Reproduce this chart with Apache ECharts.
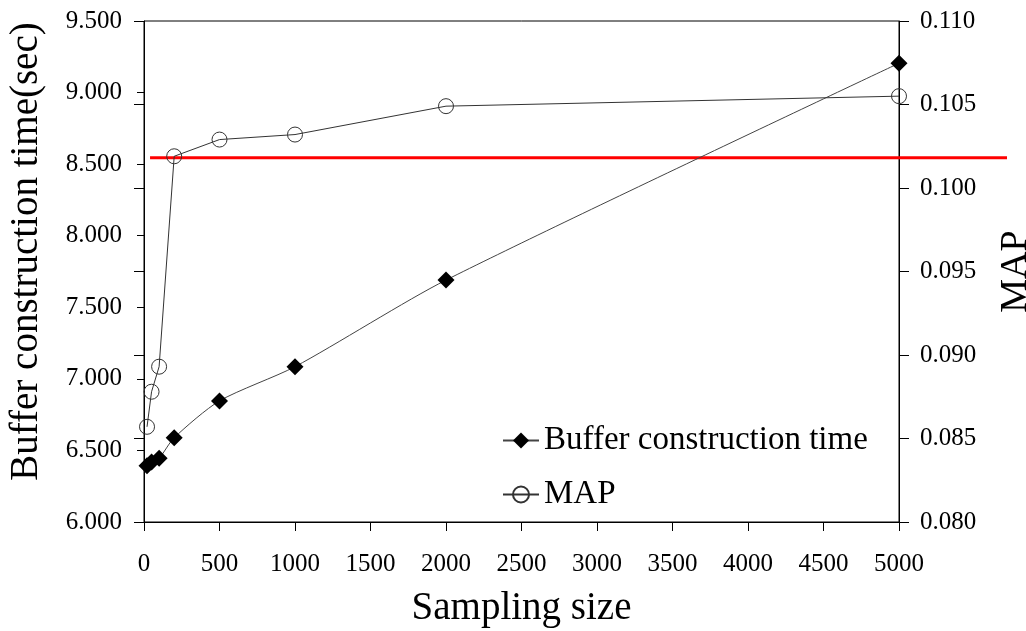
<!DOCTYPE html>
<html>
<head>
<meta charset="utf-8">
<script src="https://cdn.jsdelivr.net/npm/echarts@6/dist/echarts.min.js"></script>
<style>html,body{margin:0;padding:0;background:#fff;}#c{width:1026px;height:631px;}</style>
</head>
<body>
<div id="c"></div>
<script>
var samplingSizes = [20, 50, 100, 200, 500, 1000, 2000, 5000];
var bufferTime = [6.393, 6.42, 6.445, 6.589, 6.846, 7.085, 7.69, 9.205];
var mapValues = [0.0857, 0.0878, 0.0893, 0.1019, 0.1029, 0.1032, 0.1049, 0.1055];
var redLineValue = 8.544;
var redLineFrom = 40;
var redLineTo = 5715;
var leftTicks = [6.0, 9.5, 0.5];
var rightTicks = [0.080, 0.110, 0.005];
var xTicks = [0, 5000, 500];

var font = "'Liberation Serif', 'Times New Roman', serif";
function pairs(xs, ys) { return xs.map(function (x, i) { return [x, ys[i]]; }); }

var chart = echarts.init(document.getElementById('c'), null, {renderer: 'canvas'});
chart.setOption({
  backgroundColor: '#fff',
  animation: false,
  grid: [
    {left: 144, right: 127, top: 21, bottom: 109, show: true, borderColor: '#000', borderWidth: 1, backgroundColor: 'transparent', containLabel: false, outerBoundsMode: 'none'},
    {left: 144, right: 19, top: 21, bottom: 109, show: false, containLabel: false, outerBoundsMode: 'none'},
    {left: 144, right: 127, top: 21, bottom: 109, show: false, containLabel: false, outerBoundsMode: 'none'}
  ],
  xAxis: [
    {
      gridIndex: 0, type: 'value', min: xTicks[0], max: xTicks[1], interval: xTicks[2],
      name: 'Sampling size', nameLocation: 'middle', nameGap: 67,
      nameTextStyle: {fontFamily: font, fontSize: 39, color: '#000'},
      axisLine: {show: true, lineStyle: {color: '#000', width: 1}},
      axisTick: {show: true, inside: false, length: 9, lineStyle: {color: '#000'}},
      axisLabel: {fontFamily: font, fontSize: 25, color: '#000', margin: 30, formatter: function (v) { return String(v); }},
      splitLine: {show: false}
    },
    {
      gridIndex: 1, type: 'value', min: 0, max: redLineTo, show: false
    },
    {
      gridIndex: 2, type: 'value', min: xTicks[0], max: xTicks[1], show: false
    }
  ],
  yAxis: [
    {
      gridIndex: 0, type: 'value', position: 'left', min: leftTicks[0], max: leftTicks[1], interval: leftTicks[2],
      name: 'Buffer construction time(sec)', nameLocation: 'middle', nameGap: 98, nameRotate: 90,
      nameTextStyle: {fontFamily: font, fontSize: 39, color: '#000', padding: [0, 0, 0, 40]},
      axisLine: {show: true, lineStyle: {color: '#000', width: 1}},
      axisTick: {show: true, inside: false, length: 7, lineStyle: {color: '#000'}},
      axisLabel: {fontFamily: font, fontSize: 25, color: '#000', margin: 22, formatter: function (v) { return v.toFixed(3); }},
      splitLine: {show: false}
    },
    {
      gridIndex: 0, type: 'value', position: 'right', min: rightTicks[0], max: rightTicks[1], interval: rightTicks[2],
      name: 'MAP', nameLocation: 'middle', nameGap: 98, nameRotate: 90,
      nameTextStyle: {fontFamily: font, fontSize: 38, color: '#000'},
      axisLine: {show: true, lineStyle: {color: '#000', width: 1}},
      axisTick: {show: true, inside: false, length: 10, lineStyle: {color: '#000'}},
      axisLabel: {fontFamily: font, fontSize: 25, color: '#000', margin: 21, formatter: function (v) { return v.toFixed(3); }},
      splitLine: {show: false}
    },
    {
      gridIndex: 1, type: 'value', min: leftTicks[0], max: leftTicks[1], show: false
    },
    {
      gridIndex: 2, type: 'value', position: 'right', min: rightTicks[0], max: rightTicks[1], interval: rightTicks[2],
      axisLine: {show: false},
      axisTick: {show: true, inside: true, length: 10, lineStyle: {color: '#000'}},
      axisLabel: {show: false},
      splitLine: {show: false}
    }
  ],
  legend: {
    orient: 'vertical', left: 497, top: 419, itemWidth: 36, itemHeight: 20, itemGap: 21,
    textStyle: {fontFamily: font, fontSize: 33, color: '#000'},
    data: ['Buffer construction time', 'MAP']
  },
  series: [
    {
      name: 'red', type: 'line', xAxisIndex: 1, yAxisIndex: 2,
      data: [[redLineFrom, redLineValue], [redLineTo, redLineValue]],
      symbol: 'none', lineStyle: {color: '#ff0000', width: 3}, z: 1, silent: true
    },
    {
      name: 'Buffer construction time', type: 'line', xAxisIndex: 0, yAxisIndex: 0,
      data: pairs(samplingSizes, bufferTime), smooth: 0.25,
      symbol: 'diamond', symbolSize: 17,
      itemStyle: {color: '#000', borderColor: '#000', borderWidth: 0},
      lineStyle: {color: '#444', width: 1}, z: 3
    },
    {
      name: 'MAP', type: 'line', xAxisIndex: 0, yAxisIndex: 1,
      data: pairs(samplingSizes, mapValues),
      symbol: 'circle', symbolSize: 15,
      itemStyle: {color: 'rgba(255,255,255,0)', borderColor: '#333', borderWidth: 1},
      lineStyle: {color: '#333', width: 1}, z: 4
    }
  ]
});
</script>
</body>
</html>
